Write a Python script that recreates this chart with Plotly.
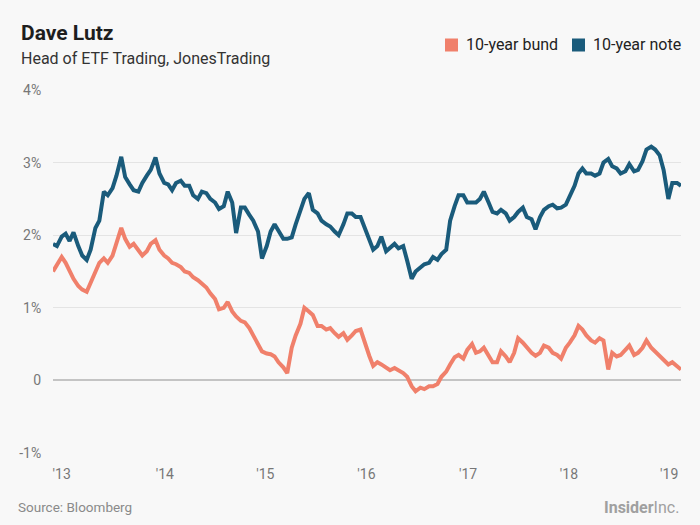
import pandas as pd
import plotly.graph_objects as go

# Semi-monthly readings (1st and 15th of each month), Jan 2013 - Feb 2019, in %
note_10y = [
    1.88, 1.85, 1.98, 2.02, 1.92, 2.04, 1.85, 1.72, 1.66, 1.80, 2.10, 2.20,
    2.60, 2.55, 2.65, 2.82, 3.08, 2.80, 2.70, 2.62, 2.60, 2.72, 2.82, 2.90,
    3.07, 2.85, 2.72, 2.70, 2.62, 2.72, 2.75, 2.68, 2.68, 2.55, 2.50, 2.60,
    2.58, 2.50, 2.45, 2.36, 2.40, 2.60, 2.45, 2.03, 2.38, 2.38, 2.28, 2.20,
    2.05, 1.68, 1.85, 2.05, 2.15, 2.05, 1.95, 1.95, 1.97, 2.15, 2.35, 2.50,
    2.58, 2.35, 2.30, 2.20, 2.15, 2.12, 2.05, 2.00, 2.15, 2.30, 2.30, 2.25,
    2.25, 2.10, 1.93, 1.80, 1.85, 1.98, 1.78, 1.82, 1.88, 1.82, 1.85, 1.65,
    1.40, 1.50, 1.56, 1.60, 1.62, 1.70, 1.66, 1.74, 1.80, 2.20, 2.40, 2.55,
    2.55, 2.45, 2.45, 2.45, 2.50, 2.60, 2.45, 2.32, 2.30, 2.35, 2.30, 2.20,
    2.25, 2.32, 2.38, 2.25, 2.22, 2.08, 2.25, 2.35, 2.40, 2.42, 2.37, 2.38,
    2.42, 2.55, 2.68, 2.85, 2.92, 2.85, 2.85, 2.82, 2.85, 3.00, 3.05, 2.95,
    2.92, 2.85, 2.88, 2.98, 2.88, 2.90, 3.02, 3.18, 3.22, 3.18, 3.10, 2.90,
    2.50, 2.72, 2.72, 2.68,
]
bund_10y = [
    1.50, 1.60, 1.70, 1.62, 1.50, 1.40, 1.30, 1.25, 1.22, 1.35, 1.50, 1.62,
    1.68, 1.62, 1.72, 1.88, 2.10, 1.95, 1.84, 1.88, 1.78, 1.72, 1.78, 1.88,
    1.93, 1.80, 1.72, 1.68, 1.62, 1.60, 1.56, 1.50, 1.48, 1.42, 1.38, 1.33,
    1.28, 1.20, 1.12, 0.98, 1.00, 1.08, 0.95, 0.88, 0.82, 0.80, 0.72, 0.62,
    0.50, 0.40, 0.37, 0.36, 0.33, 0.25, 0.18, 0.10, 0.45, 0.62, 0.78, 1.00,
    0.95, 0.90, 0.75, 0.75, 0.70, 0.72, 0.65, 0.60, 0.65, 0.56, 0.62, 0.68,
    0.70, 0.52, 0.34, 0.20, 0.25, 0.22, 0.17, 0.14, 0.17, 0.14, 0.10, 0.05,
    -0.08, -0.15, -0.10, -0.12, -0.08, -0.08, -0.05, 0.05, 0.12, 0.22, 0.32, 0.35,
    0.30, 0.42, 0.50, 0.38, 0.40, 0.45, 0.35, 0.25, 0.25, 0.40, 0.33, 0.25,
    0.38, 0.58, 0.52, 0.45, 0.38, 0.34, 0.38, 0.48, 0.45, 0.38, 0.35, 0.30,
    0.45, 0.52, 0.62, 0.75, 0.70, 0.62, 0.55, 0.52, 0.58, 0.55, 0.15, 0.38,
    0.33, 0.35, 0.42, 0.48, 0.35, 0.38, 0.45, 0.55, 0.45, 0.40, 0.33, 0.28,
    0.22, 0.25, 0.20, 0.15,
]
dates = pd.date_range("2013-01-01", periods=len(note_10y), freq="SMS")

# dates at which the year labels sit in the reference
year_ticks = ["2013-02-01", "2014-02-03", "2015-01-27", "2016-01-22",
              "2017-01-18", "2018-01-12", "2019-01-04"]
year_labels = ["'13", "'14", "'15", "'16", "'17", "'18", "'19"]
y_ticks = [-1, 0, 1, 2, 3, 4]
y_labels = ["-1%", "0", "1%", "2%", "3%", "4%"]
legend_names = ["10-year bund", "10-year note"]

BUND = "#F0806B"
NOTE = "#1A5B7B"
FONT = "Roboto"

W, H = 700, 525
L, R, T, B = 53, 19, 90, 72


def px_x(px):
    return (px - L) / (W - L - R)


def px_y(py):
    return (H - B - py) / (H - T - B)


fig = go.Figure()
fig.add_trace(go.Scatter(x=dates, y=bund_10y, mode="lines",
                         line=dict(color=BUND, width=4), showlegend=False,
                         hoverinfo="skip"))
fig.add_trace(go.Scatter(x=dates, y=note_10y, mode="lines",
                         line=dict(color=NOTE, width=4), showlegend=False,
                         hoverinfo="skip"))

shapes = []
annotations = []
for name, color, sq_left in zip(legend_names, [BUND, NOTE], [445, 572]):
    shapes.append(dict(type="rect", xref="paper", yref="paper",
                       x0=px_x(sq_left), x1=px_x(sq_left + 13),
                       y0=px_y(51.5), y1=px_y(38.5),
                       fillcolor=color, line=dict(width=0)))
    annotations.append(dict(text=name, x=px_x(sq_left + 19), y=px_y(45),
                            xref="paper", yref="paper", xanchor="left",
                            yanchor="middle", showarrow=False,
                            font=dict(size=16, color="#222222", family=FONT)))

annotations += [
    dict(text="<b>Dave Lutz</b>", x=px_x(19), y=px_y(33), xref="paper", yref="paper",
         xanchor="left", yanchor="middle", showarrow=False,
         font=dict(size=21, color="#1E1E1E", family=FONT)),
    dict(text="Head of ETF Trading, JonesTrading", x=px_x(19), y=px_y(59),
         xref="paper", yref="paper", xanchor="left", yanchor="middle",
         showarrow=False, font=dict(size=16, color="#333333", family=FONT)),
    dict(text="Source: Bloomberg", x=px_x(16), y=px_y(507), xref="paper", yref="paper",
         xanchor="left", yanchor="middle", showarrow=False,
         font=dict(size=13.5, color="#8A8A8A", family=FONT)),
    dict(text="<b>Insider</b>Inc.", x=px_x(681), y=px_y(507), xref="paper", yref="paper",
         xanchor="right", yanchor="middle", showarrow=False,
         font=dict(size=16, color="#A0A0A0", family=FONT)),
]

fig.update_layout(
    width=W, height=H,
    margin=dict(l=L, r=R, t=T, b=B, autoexpand=False),
    paper_bgcolor="#F8F8F8", plot_bgcolor="#F8F8F8",
    font=dict(family=FONT, color="#333333"),
    showlegend=False,
    xaxis=dict(type="date", range=[dates[0], dates[-1]],
               tickvals=year_ticks, ticktext=year_labels,
               showgrid=False, zeroline=False, showline=False,
               ticks="outside", ticklen=8, tickcolor="rgba(0,0,0,0)",
               tickfont=dict(size=14, color="#777777"), automargin=False),
    yaxis=dict(range=[-1, 4], tickvals=y_ticks, ticktext=y_labels,
               showgrid=True, gridcolor="#E4E4E4", gridwidth=1,
               zeroline=True, zerolinecolor="#C4C4C4", zerolinewidth=1.5,
               showline=False,
               ticks="outside", ticklen=8, tickcolor="rgba(0,0,0,0)",
               tickfont=dict(size=14, color="#777777"), automargin=False),
    shapes=shapes,
    annotations=annotations,
)

fig.write_html(
    "out.html",
    config={"displayModeBar": False},
    post_script="document.body.style.margin='0px';document.body.style.background='#F8F8F8';",
)
